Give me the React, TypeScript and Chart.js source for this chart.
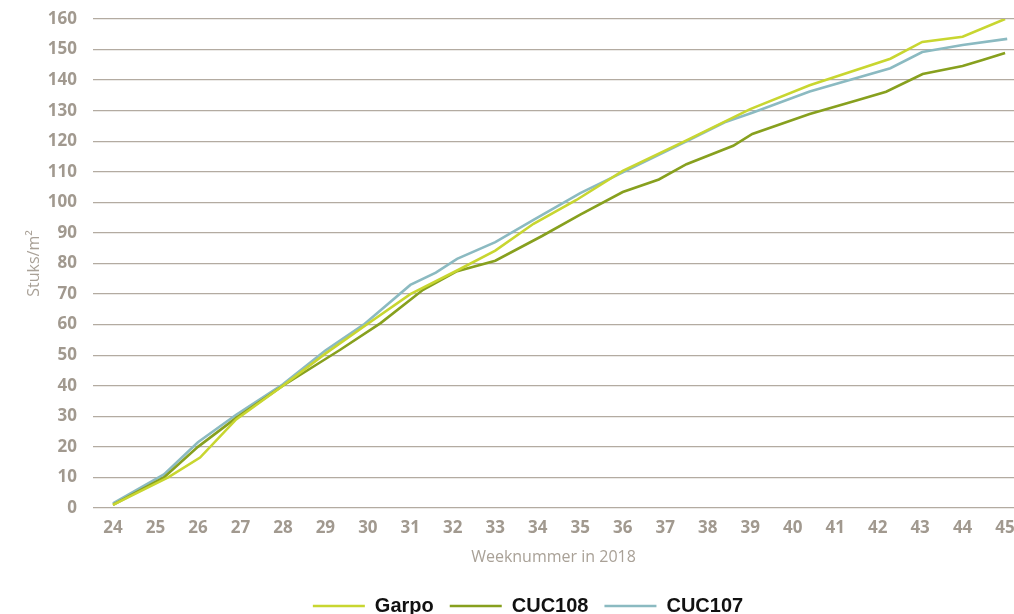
import React, { useEffect, useRef } from "react";
import { Chart, registerables } from "chart.js";

Chart.register(...registerables);

const weekTicks = [24, 25, 26, 27, 28, 29, 30, 31, 32, 33, 34, 35, 36, 37, 38, 39, 40, 41, 42, 43, 44, 45];

const garpoWeeks = [24, 25.3, 26.05, 26.9, 28, 29, 30, 31, 32.1, 33, 33.9, 34.9, 36, 37.5, 39, 40.4, 42.3, 43.05, 44, 45];
const garpoValues = [1, 10, 16.5, 29, 40, 50.5, 60.3, 70, 77.7, 84.2, 93, 100.7, 110.3, 120.3, 130.5, 138.3, 147, 152.5, 154.2, 160];

const cuc108Weeks = [24, 25.2, 26, 26.9, 28, 29.34, 30.3, 31.3, 32.1, 33, 34.1, 35, 36, 36.85, 37.5, 38.6, 39.05, 40.4, 41.5, 42.2, 43.06, 44, 44.47, 45];
const cuc108Values = [1, 10, 20, 29.5, 40, 51.7, 60.5, 71.4, 77.5, 80.9, 89, 96, 103.4, 107.5, 112.5, 118.5, 122.4, 128.9, 133.3, 136.2, 142, 144.6, 146.6, 148.9];

const cuc107Weeks = [24, 25.2, 26, 26.9, 28, 29, 29.9, 31, 31.6, 32.1, 33, 33.9, 35, 36, 37.5, 38.4, 39.05, 40.4, 42.3, 43.05, 44, 45.05];
const cuc107Values = [1.5, 11, 21.5, 30.5, 40.5, 51.5, 60, 73, 77, 81.5, 87, 94.3, 103, 109.8, 120, 126.2, 129.3, 136.3, 143.9, 149.2, 151.5, 153.5];

const seriesNames = ["Garpo", "CUC108", "CUC107"];
const seriesColors = ["#c8d630", "#87a01e", "#8bbac1"];

const toPoints = (xs: number[], ys: number[]) => xs.map((x, i) => ({ x, y: ys[i] }));

export default function App() {
  const canvasRef = useRef<HTMLCanvasElement | null>(null);

  useEffect(() => {
    if (!canvasRef.current) return;
    const seriesData = [
      toPoints(garpoWeeks, garpoValues),
      toPoints(cuc108Weeks, cuc108Values),
      toPoints(cuc107Weeks, cuc107Values),
    ];
    const legendShift = {
      id: "legendShift",
      afterLayout(chart: any) {
        const lg = chart.legend;
        if (!lg) return;
        lg.left += 21;
        lg.right += 21;
        lg.top += 12;
        lg.bottom += 12;
      },
    };
    const chart = new Chart(canvasRef.current, {
      type: "line",
      data: {
        datasets: seriesNames.map((name, i) => ({
          label: name,
          data: seriesData[i],
          borderColor: seriesColors[i],
          backgroundColor: seriesColors[i],
          borderWidth: 2.6,
          pointRadius: 0,
          tension: 0,
        })),
      },
      options: {
        animation: false,
        responsive: true,
        maintainAspectRatio: false,
        layout: { padding: { top: 19, left: 0, right: 0, bottom: 0 } },
        plugins: {
          tooltip: { enabled: false },
          legend: {
            position: "bottom",
            labels: {
              usePointStyle: true,
              pointStyle: "line",
              pointStyleWidth: 52,
              padding: 16,
              color: "#111111",
              font: { family: "'Liberation Sans', Arial, sans-serif", size: 20, weight: "bold" },
            },
          },
        },
        scales: {
          x: {
            type: "linear",
            min: 23.53,
            max: 45.21,
            afterBuildTicks: (scale: any) => {
              scale.ticks = weekTicks.map((v) => ({ value: v }));
            },
            afterFit: (scale: any) => {
              scale.height = 60;
              scale.paddingLeft = 0;
              scale.paddingRight = 0;
            },
            grid: { display: false, drawTicks: false },
            border: { display: false },
            ticks: {
              autoSkip: false,
              maxRotation: 0,
              padding: 10,
              color: "#a1998f",
              font: { family: "'Open Sans', sans-serif", size: 17, weight: "bold" },
              callback: (v: any) => String(v),
            },
            title: {
              display: true,
              text: "Weeknummer in 2018",
              color: "#a9a197",
              font: { family: "'Open Sans', sans-serif", size: 16, lineHeight: 1.375 },
              padding: { top: 0, bottom: 0 },
            },
          },
          y: {
            min: 0,
            max: 160,
            afterFit: (scale: any) => {
              scale.width = 93;
              scale.paddingTop = 0;
              scale.paddingBottom = 0;
            },
            grid: { color: "#b3aba1", lineWidth: 1.3, drawTicks: false },
            border: { display: false },
            ticks: {
              stepSize: 10,
              padding: 16,
              color: "#a1998f",
              font: { family: "'Open Sans', sans-serif", size: 17, weight: "bold" },
            },
            title: {
              display: true,
              text: "Stuks/m²",
              color: "#a9a197",
              font: { family: "'Open Sans', sans-serif", size: 16 },
              padding: { top: 25, bottom: 0 },
            },
          },
        },
      },
      plugins: [legendShift],
    } as any);
    return () => chart.destroy();
  }, []);

  return (
    <div style={{ position: "fixed", left: 0, top: 0, width: 1014, height: 614, background: "#ffffff" }}>
      <canvas ref={canvasRef} />
    </div>
  );
}
